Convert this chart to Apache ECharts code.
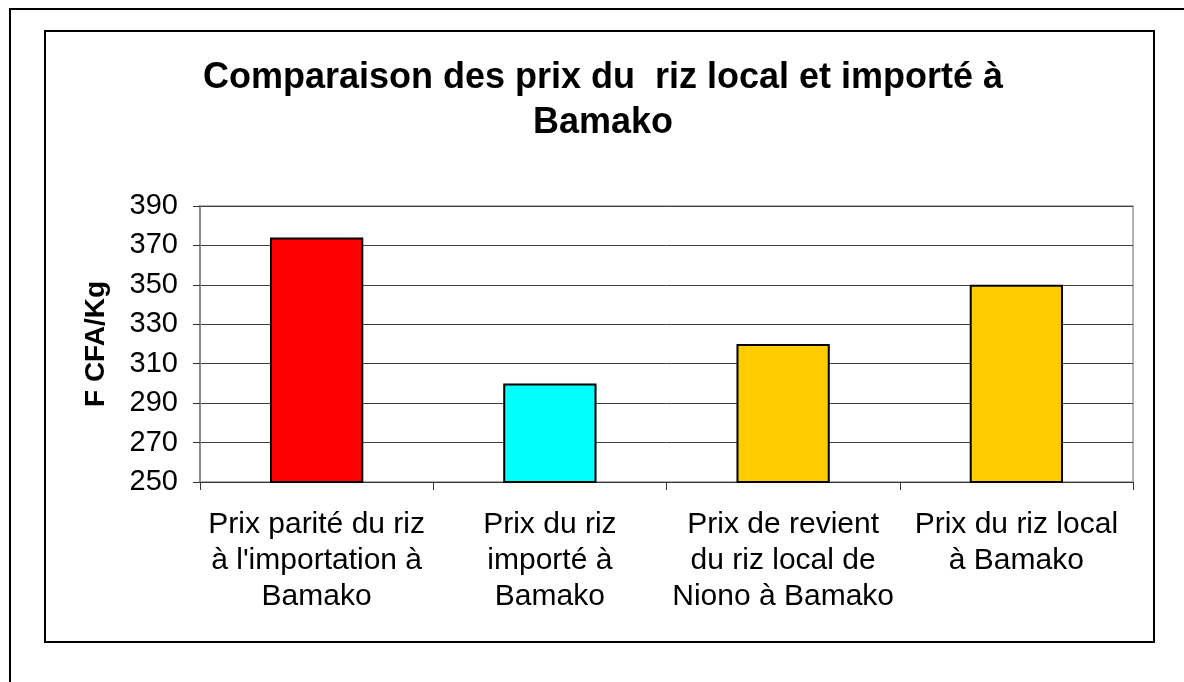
<!DOCTYPE html>
<html style="height: 100%">
   <head>
       <meta charset="utf-8">
   </head>
   <body style="height: 100%; margin: 0; background: #fff">
       <div id="container" style="width: 1184px; height: 682px"></div>
       <script type="text/javascript" src="https://cdn.jsdelivr.net/npm/echarts@6/dist/echarts.min.js"></script>
       <script type="text/javascript">
var categories = [
    'Prix parité du riz\nà l\'importation à\nBamako',
    'Prix du riz\nimporté à\nBamako',
    'Prix de revient\ndu riz local de\nNiono à Bamako',
    'Prix du riz local\nà Bamako'
];
var prices = [374, 300, 320, 350];
var barColors = ['#FF0000', '#00FFFF', '#FFCC00', '#FFCC00'];
var yTicks = [250, 390, 20];  // min, max, interval

var font = "'Liberation Sans', Arial, sans-serif";
var dom = document.getElementById("container");
var myChart = echarts.init(dom);

var option = {
    backgroundColor: '#fff',
    animation: false,
    title: {
        text: 'Comparaison des prix du  riz local et importé à\nBamako',
        left: 598,
        textAlign: 'center',
        top: 51,
        textStyle: {
            fontFamily: font,
            fontSize: 36,
            fontWeight: 'bold',
            lineHeight: 45,
            color: '#000'
        }
    },
    graphic: [
        // outer page frame (only left/top visible)
        {type: 'rect', shape: {x: 10, y: 9, width: 1300, height: 800},
         style: {fill: 'none', stroke: '#000', lineWidth: 2}, silent: true},
        // chart area frame
        {type: 'rect', shape: {x: 45, y: 31, width: 1109, height: 611},
         style: {fill: 'none', stroke: '#000', lineWidth: 2}, silent: true}
    ],
    grid: {
        left: 200,
        right: 51,
        top: 206,
        bottom: 200,
        show: true,
        borderColor: '#999',
        borderWidth: 1.5
    },
    xAxis: {
        type: 'category',
        data: categories,
        axisLine: {lineStyle: {color: '#333', width: 1}},
        axisTick: {show: true, length: 8, lineStyle: {color: '#333'}},
        axisLabel: {
            interval: 0,
            margin: 25,
            fontFamily: font,
            fontSize: 30,
            lineHeight: 36,
            color: '#000'
        }
    },
    yAxis: {
        type: 'value',
        min: yTicks[0],
        max: yTicks[1],
        interval: yTicks[2],
        name: 'F CFA/Kg',
        nameLocation: 'middle',
        nameGap: 90,
        nameTextStyle: {
            fontFamily: font,
            fontSize: 28,
            fontWeight: 'bold',
            color: '#000'
        },
        axisLine: {show: true, lineStyle: {color: '#808080', width: 1.5}},
        axisTick: {show: true, length: 7, lineStyle: {color: '#333'}},
        splitLine: {lineStyle: {color: '#404040', width: 1}},
        axisLabel: {
            margin: 22,
            fontFamily: font,
            fontSize: 29,
            color: '#000'
        }
    },
    series: [{
        type: 'bar',
        barWidth: '40%',
        data: prices.map(function (v, i) {
            return {value: v, itemStyle: {color: barColors[i]}};
        }),
        itemStyle: {borderColor: '#000', borderWidth: 2}
    }]
};

myChart.setOption(option);
       </script>
   </body>
</html>
